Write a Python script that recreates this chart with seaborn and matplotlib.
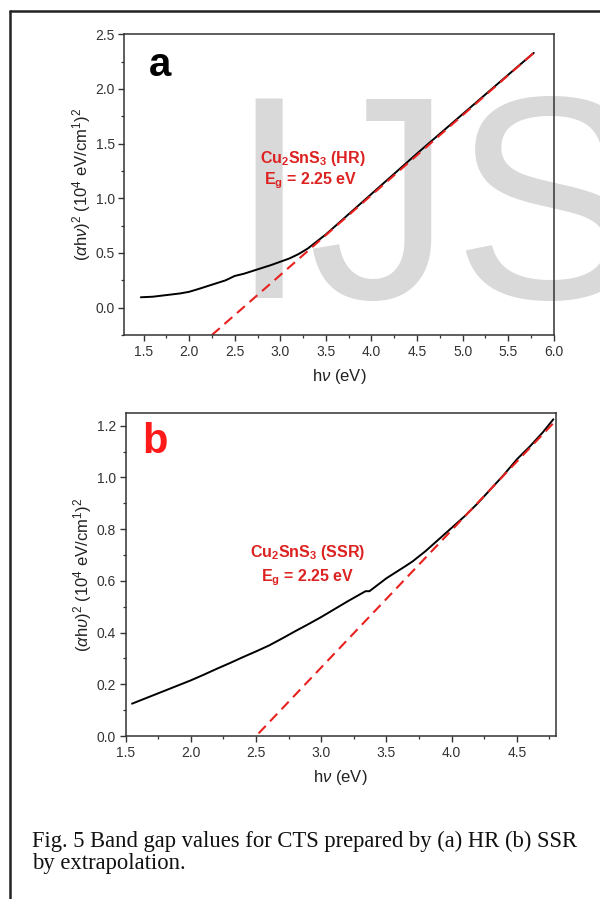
import matplotlib
matplotlib.use("Agg")

import matplotlib.pyplot as plt
import seaborn as sns
from matplotlib.lines import Line2D
from matplotlib.ticker import AutoMinorLocator, FormatStrFormatter, MultipleLocator

# panel a: HR sample
hv_a = [1.47, 1.6, 1.75, 1.9, 2.0, 2.1, 2.25, 2.4, 2.5, 2.6, 2.75, 2.9,
        3.0, 3.1, 3.2, 3.3, 3.5, 4.0, 4.5, 5.0, 5.5, 5.78]
ahv_a = [0.095, 0.10, 0.115, 0.13, 0.145, 0.17, 0.21, 0.25, 0.29, 0.31, 0.35, 0.39,
         0.42, 0.45, 0.49, 0.54, 0.67, 1.04, 1.41, 1.77, 2.13, 2.33]
fit_a_x = [2.25, 5.78]
fit_a_y = [-0.25, 2.33]

# panel b: SSR sample
hv_b = [1.55, 1.6, 1.7, 1.8, 1.9, 2.0, 2.1, 2.2, 2.3, 2.4, 2.5, 2.6, 2.7, 2.8, 2.9,
        3.0, 3.1, 3.2, 3.34, 3.37, 3.5, 3.64, 3.7, 3.8, 3.9, 4.0, 4.1, 4.2,
        4.3, 4.4, 4.5, 4.6, 4.7, 4.78]
ahv_b = [0.125, 0.135, 0.155, 0.175, 0.195, 0.215, 0.237, 0.26, 0.282, 0.305, 0.327, 0.35,
         0.377, 0.405, 0.432, 0.46, 0.49, 0.52, 0.56, 0.56, 0.61, 0.655, 0.675, 0.715,
         0.76, 0.805, 0.85, 0.9, 0.955, 1.01, 1.07, 1.12, 1.175, 1.225]
fit_b_x = [2.52, 4.78]
fit_b_y = [0.01, 1.21]

sns.set_theme(style="ticks")
plt.rcParams["font.family"] = ["Liberation Sans", "DejaVu Sans"]
plt.rcParams["mathtext.fontset"] = "custom"
plt.rcParams["mathtext.rm"] = "Liberation Sans"
plt.rcParams["mathtext.it"] = "Liberation Sans:italic"
plt.rcParams["mathtext.bf"] = "Liberation Sans:bold"

W, H = 600, 899
fig = plt.figure(figsize=(6, 8.99), dpi=100)

ax_a = fig.add_axes([124.4 / W, 1 - 335 / H, 429.4 / W, 300.7 / H])
ax_b = fig.add_axes([125.5 / W, 1 - 736 / H, 430.5 / W, 322.7 / H])

red_txt = "#dd2222"

sns.lineplot(x=hv_a, y=ahv_a, ax=ax_a, color="black", lw=1.4, sort=False, estimator=None)
sns.lineplot(x=fit_a_x, y=fit_a_y, ax=ax_a, color="#e8211f", lw=1.5, linestyle=(0, (5, 3)))
sns.lineplot(x=hv_b, y=ahv_b, ax=ax_b, color="black", lw=1.4, sort=False, estimator=None)
sns.lineplot(x=fit_b_x, y=fit_b_y, ax=ax_b, color="#e8211f", lw=1.5, linestyle=(0, (5, 3)))

ax_a.set_xlim(1.29, 6.0)
ax_a.set_ylim(-0.25, 2.5)
ax_a.xaxis.set_major_locator(MultipleLocator(0.5))
ax_a.yaxis.set_major_locator(MultipleLocator(0.5))

ax_b.set_xlim(1.5, 4.8)
ax_b.set_ylim(0.0, 1.248)
ax_b.xaxis.set_major_locator(MultipleLocator(0.5))
ax_b.yaxis.set_major_locator(MultipleLocator(0.2))

for ax in (ax_a, ax_b):
    ax.set_facecolor("none")
    ax.xaxis.set_minor_locator(AutoMinorLocator(2))
    ax.yaxis.set_minor_locator(AutoMinorLocator(2))
    ax.xaxis.set_major_formatter(FormatStrFormatter("%.1f"))
    ax.yaxis.set_major_formatter(FormatStrFormatter("%.1f"))
    ax.tick_params(which="major", direction="out", length=4, width=1, color="#333333",
                   labelsize=10, labelcolor="#333333", pad=3)
    ax.tick_params(which="minor", direction="out", length=2.5, width=0.9, color="#333333")
    for s in ax.spines.values():
        s.set_visible(True)
        s.set_color("#333333")
        s.set_linewidth(1.1)
    ax.set_xlabel(r"h$\nu$ (eV)", fontsize=12, color="#222222", labelpad=6)

ax_a.set_ylabel(r"($\alpha$h$\nu$)$^2$ (10$^4$ eV/cm$^1$)$^2$", fontsize=12, color="#222222", labelpad=2)
ax_b.set_ylabel(r"($\alpha$h$\upsilon$)$^2$ (10$^4$ eV/cm$^1$)$^2$", fontsize=12, color="#222222", labelpad=2)

# panel letters and band gap notes
ax_a.text(1.686, 2.218, "a", fontsize=29, fontweight="bold", color="black", ha="center", va="center")
ax_b.text(1.728, 1.137, "b", fontsize=30, fontweight="bold", color="#ff1a1a", ha="center", va="center")

ax_a.text(3.36, 1.368, r"Cu$_\mathbf{2}$SnS$_\mathbf{3}$ (HR)", fontsize=11.5, fontweight="bold",
          color=red_txt, ha="center", va="center")
ax_a.text(3.33, 1.158, r"E$_\mathbf{g}$ = 2.25 eV", fontsize=11.5, fontweight="bold",
          color=red_txt, ha="center", va="center")
ax_b.text(2.90, 0.708, r"Cu$_\mathbf{2}$SnS$_\mathbf{3}$ (SSR)", fontsize=11.5, fontweight="bold",
          color=red_txt, ha="center", va="center")
ax_b.text(2.90, 0.611, r"E$_\mathbf{g}$ = 2.25 eV", fontsize=11.5, fontweight="bold",
          color=red_txt, ha="center", va="center")

# watermark behind panel a
fig.text(228 / W, 1 - 298 / H, "IJS", fontsize=208, color="#d9d9d9",
         ha="left", va="baseline", zorder=-1)

# page frame
fig.add_artist(Line2D([9.5 / W, 1.0], [1 - 11 / H, 1 - 11 / H], transform=fig.transFigure,
                      color="#222222", lw=1.8))
fig.add_artist(Line2D([9.5 / W, 9.5 / W], [0.0, 1 - 11 / H], transform=fig.transFigure,
                      color="#222222", lw=1.8))

# caption, fitted to the printed width
cap1 = fig.text(31.7 / W, 1 - 846.7 / H, "Fig. 5 Band gap values for CTS prepared by (a) HR (b) SSR",
                fontsize=13, family="Liberation Serif", color="#111111", ha="left", va="baseline")
cap2 = fig.text(31.7 / W, 1 - 869 / H, "by extrapolation.",
                fontsize=13, family="Liberation Serif", color="#111111", ha="left", va="baseline")
fig.canvas.draw()
bw = cap1.get_window_extent().width
fs = 13 * 546 / bw
cap1.set_fontsize(fs)
cap2.set_fontsize(fs)

plt.savefig("out.png", dpi=100)
plt.close()
